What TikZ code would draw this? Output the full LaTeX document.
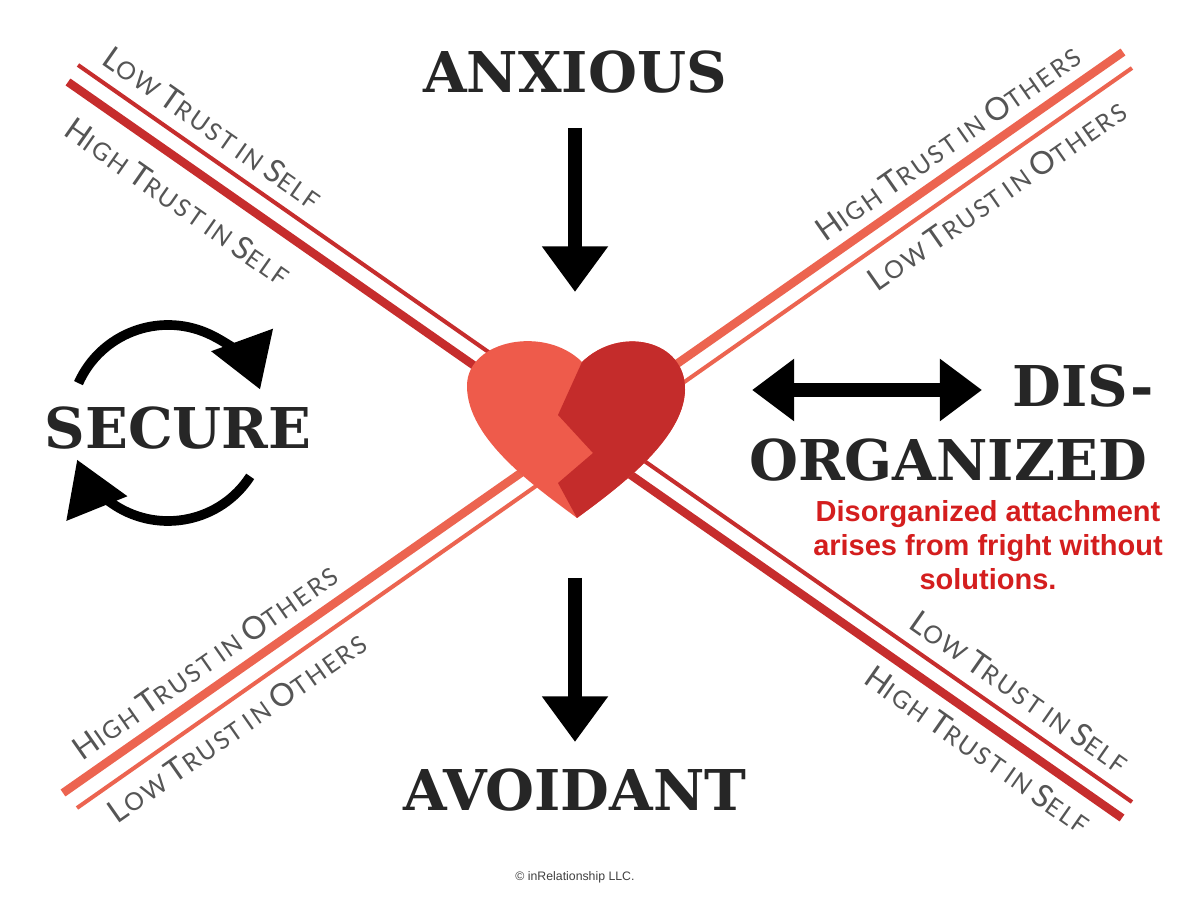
\documentclass[tikz,border=0pt]{standalone}
\usepackage{fontspec}
\setmainfont{DejaVu Serif}
\newfontfamily\trustfont[LetterSpace=9]{Lato}
\newfontfamily\notefont{Liberation Sans}
\usetikzlibrary{arrows.meta}
\definecolor{darkline}{HTML}{C62D2D}
\definecolor{lightline}{HTML}{EC6450}
\definecolor{heartleft}{HTML}{EE5B4B}
\definecolor{heartright}{HTML}{C42C2B}
\definecolor{notered}{HTML}{D41E1E}
\definecolor{trustgray}{HTML}{555555}
\newcommand{\smc}[2]{{\fontsize{18}{18}\selectfont #1}{\fontsize{14}{14}\selectfont #2}}
\newcommand{\sms}[1]{{\fontsize{14}{14}\selectfont #1}}
\tikzset{
  thickline/.style={line width=4.8pt},
  thinline/.style={line width=2.3pt},
  trust/.style={font=\trustfont, text=trustgray, inner sep=0pt},
  heading/.style={font=\bfseries\fontsize{32}{32}\selectfont, text=black!85, inner sep=0pt},
  bigarrow/.style={line width=8pt, -{Triangle[length=26pt,width=36pt]}},
  cyclearrow/.style={line width=5.5pt, -{Triangle[length=30pt,width=36pt]}}
}
\begin{document}
\begin{tikzpicture}[x=0.02cm,y=-0.02cm]
  \useasboundingbox[fill=white] (0,0) rectangle (1200,901);
  % diagonals
  \draw[darkline,thinline] (78,65) -- (1132,802);
  \draw[darkline,thickline] (68,82) -- (1122,818);
  \draw[lightline,thickline] (63,793) -- (1123,52);
  \draw[lightline,thinline] (77,808) -- (1132,68);
  % trust labels
  \node[trust,rotate=-35] (tlLow) at (213,128) {\smc{L}{OW} \smc{T}{RUST} \sms{IN} \smc{S}{ELF}};
  \node[trust,rotate=-35] (tlHigh) at (178,202) {\smc{H}{IGH} \smc{T}{RUST} \sms{IN} \smc{S}{ELF}};
  \node[trust,rotate=35] (trHigh) at (948,143) {\smc{H}{IGH} \smc{T}{RUST} \sms{IN} \smc{O}{THERS}};
  \node[trust,rotate=35] (trLow) at (997,195) {\smc{L}{OW} \smc{T}{RUST} \sms{IN} \smc{O}{THERS}};
  \node[trust,rotate=35] (blHigh) at (205,662) {\smc{H}{IGH} \smc{T}{RUST} \sms{IN} \smc{O}{THERS}};
  \node[trust,rotate=35] (blLow) at (237,727) {\smc{L}{OW} \smc{T}{RUST} \sms{IN} \smc{O}{THERS}};
  \node[trust,rotate=-35] (brLow) at (1020,692) {\smc{L}{OW} \smc{T}{RUST} \sms{IN} \smc{S}{ELF}};
  \node[trust,rotate=-35] (brHigh) at (978,750) {\smc{H}{IGH} \smc{T}{RUST} \sms{IN} \smc{S}{ELF}};
  % heart
  \fill[heartleft] (577,518) .. controls (540,490) and (466,440) .. (467,385)
    .. controls (468,340) and (545,325) .. (582,362)
    .. controls (620,325) and (686,340) .. (685,390)
    .. controls (684,440) and (615,490) .. (577,518) -- cycle;
  \begin{scope}
    \clip (577,518) .. controls (540,490) and (466,440) .. (467,385)
      .. controls (468,340) and (545,325) .. (582,362)
      .. controls (620,325) and (686,340) .. (685,390)
      .. controls (684,440) and (615,490) .. (577,518) -- cycle;
    \fill[heartright] (582,330) -- (582,362) -- (558,415) -- (593,453) -- (558,483) -- (577,518)
      -- (577,540) -- (700,540) -- (700,330) -- cycle;
  \end{scope}
  % headings
  \node[heading] (anxious) at (575,72) {ANXIOUS};
  \node[heading] (secure) at (178,428) {SECURE};
  \node[heading] (avoidant) at (575,790) {AVOIDANT};
  \node[heading] (dis) at (1083,386) {DIS-};
  \node[heading] (organized) at (948,460) {ORGANIZED};
  \node[font=\notefont\bfseries\fontsize{16.5}{19.5}\selectfont, text=notered, align=center, inner sep=0pt]
    (note) at (988,545) {Disorganized attachment\\arises from fright without\\solutions.};
  \node[font=\notefont\fontsize{7}{7}\selectfont, text=black!75, inner sep=0pt]
    (copy) at (575,877) {\textcopyright{} inRelationship LLC.};
  % arrows
  \coordinate (a1) at (575,128);
  \coordinate (a2) at (575,292);
  \coordinate (b1) at (575,578);
  \coordinate (b2) at (575,742);
  \coordinate (d1) at (752,390);
  \coordinate (d2) at (982,390);
  \draw[bigarrow] (a1) -- (a2);
  \draw[bigarrow] (b1) -- (b2);
  \draw[line width=8pt, {Triangle[length=24pt,width=34pt]}-{Triangle[length=24pt,width=34pt]}] (d1) -- (d2);
  % cycle arrows
  \draw[cyclearrow] (168,423) ++(204:98) arc[start angle=204, end angle=340, radius=98];
  \draw[cyclearrow] (168,423) ++(33:98) arc[start angle=33, end angle=158, radius=98];
\end{tikzpicture}
\end{document}
